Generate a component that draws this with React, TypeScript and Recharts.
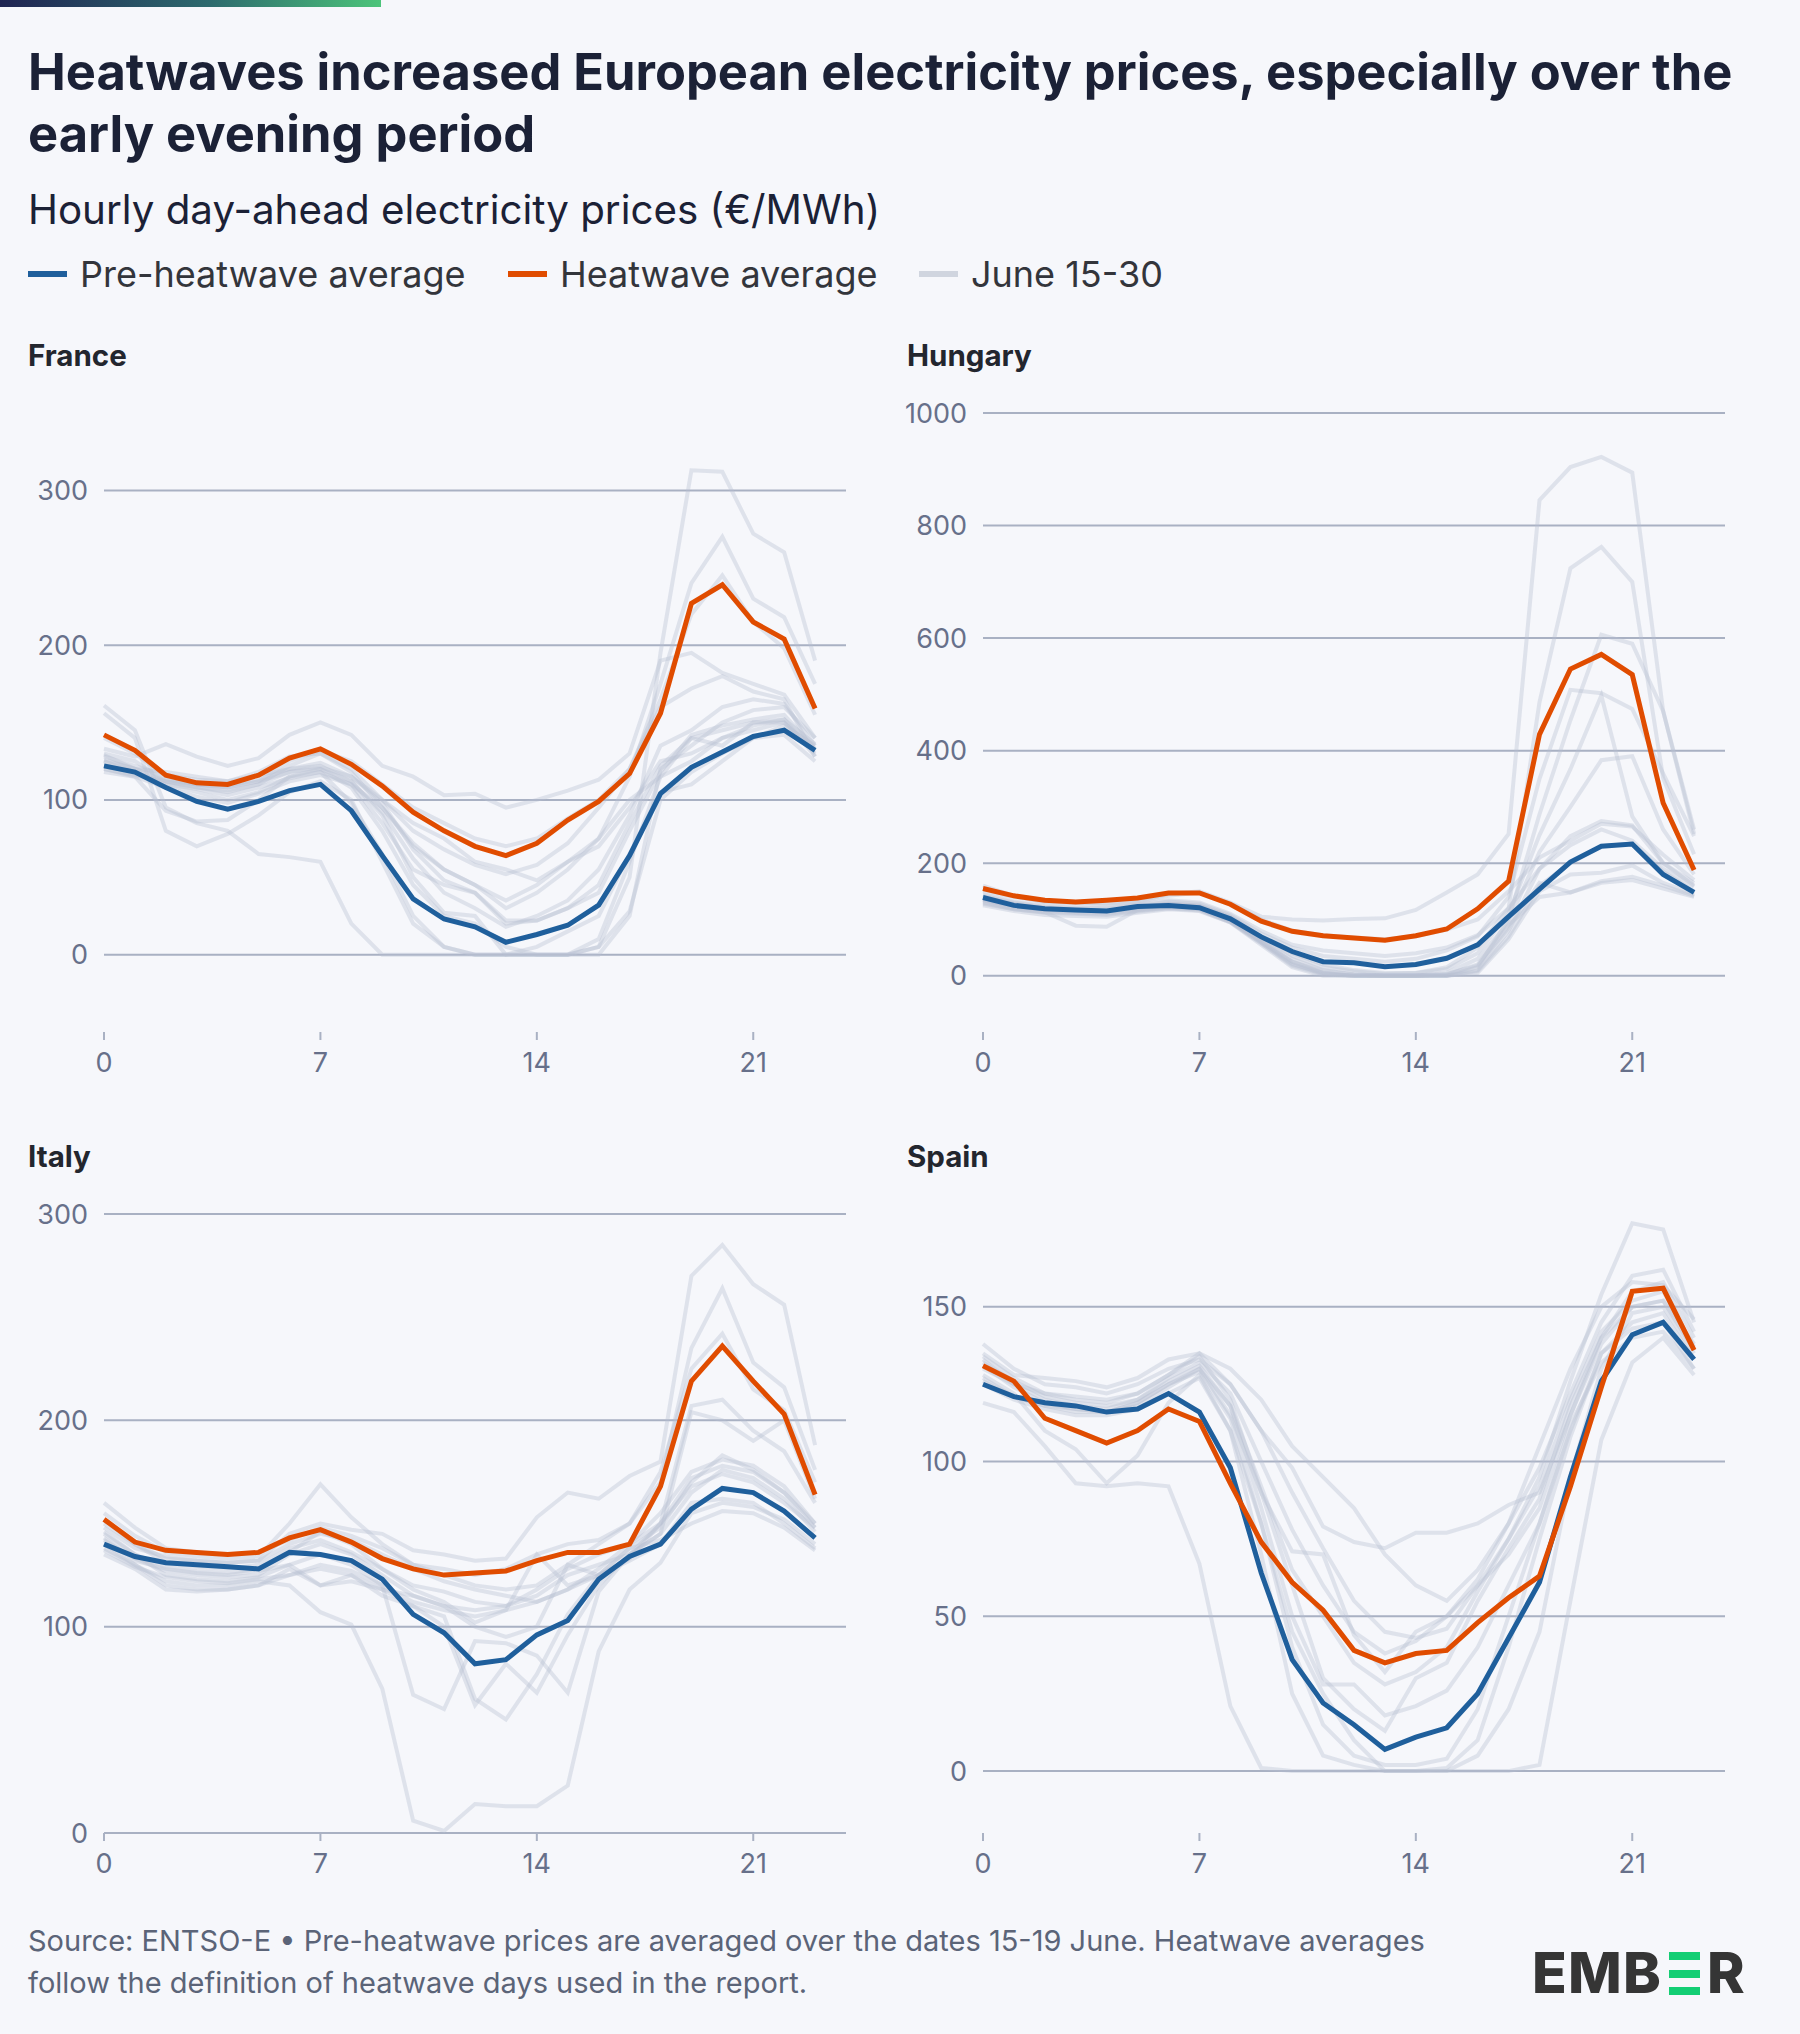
import { LineChart, Line, XAxis, YAxis, ReferenceLine } from "recharts";

const FONT = "Inter, 'Noto Sans', sans-serif";
const BLUE = "#1f5f9c";
const ORANGE = "#e04c00";
const GREY = "#b7bfd1";
const GRID = "#a9b1c3";
const TICK = "#67708a";
const INK = "#1b2136";

const HOURS = [0, 1, 2, 3, 4, 5, 6, 7, 8, 9, 10, 11, 12, 13, 14, 15, 16, 17, 18, 19, 20, 21, 22, 23];
const X_TICKS = [0, 7, 14, 21];

// France
const FR_PRE = [122, 118, 108, 99, 94, 99, 106, 110, 93, 64, 36, 23, 18, 8, 13, 19, 32, 64, 104, 121, 131, 141, 145, 132];
const FR_HW = [142, 132, 116, 111, 110, 116, 127, 133, 123, 109, 92, 80, 70, 64, 72, 87, 99, 117, 156, 227, 239, 215, 204, 159];
const FR_DAYS = [
  [125, 118, 110, 105, 100, 105, 115, 120, 108, 80, 45, 25, 20, 5, 0, 0, 5, 50, 195, 313, 312, 272, 260, 190],
  [130, 125, 112, 108, 105, 110, 122, 130, 118, 95, 70, 55, 45, 30, 40, 55, 75, 115, 175, 240, 270, 230, 218, 175],
  [140, 130, 115, 110, 108, 112, 125, 132, 125, 110, 95, 85, 75, 70, 75, 88, 100, 120, 165, 220, 245, 215, 198, 155],
  [133, 128, 136, 128, 122, 127, 142, 150, 142, 122, 115, 103, 104, 95, 100, 106, 113, 130, 190, 195, 182, 175, 168, 140],
  [161, 145, 95, 85, 80, 65, 63, 60, 20, 0, 0, 0, 0, 0, 0, 0, 0, 25, 120, 135, 150, 158, 160, 140],
  [156, 140, 80, 70, 78, 90, 105, 112, 100, 60, 20, 5, 0, 0, 0, 0, 10, 60, 115, 140, 135, 150, 152, 136],
  [120, 115, 93, 86, 87, 100, 115, 118, 110, 85, 55, 45, 40, 20, 22, 30, 40, 80, 118, 142, 148, 152, 155, 133],
  [129, 120, 118, 115, 112, 118, 128, 130, 120, 100, 80, 68, 58, 52, 58, 72, 95, 120, 160, 172, 180, 170, 165, 128],
  [128, 122, 116, 113, 112, 116, 120, 122, 112, 92, 62, 40, 30, 18, 25, 35, 55, 90, 135, 145, 160, 165, 162, 135],
  [120, 116, 112, 110, 108, 112, 118, 120, 112, 90, 50, 27, 25, 0, 5, 15, 25, 65, 105, 110, 125, 140, 148, 135],
  [118, 115, 108, 102, 98, 104, 112, 116, 110, 95, 72, 55, 45, 35, 45, 60, 75, 100, 115, 125, 140, 148, 152, 128],
  [125, 120, 113, 110, 109, 113, 120, 124, 115, 98, 68, 48, 40, 22, 22, 30, 45, 85, 122, 140, 145, 150, 150, 132],
  [122, 118, 110, 107, 103, 108, 114, 118, 98, 65, 25, 5, 0, 0, 0, 0, 5, 28, 100, 118, 130, 140, 142, 125],
  [126, 120, 112, 108, 106, 110, 118, 121, 115, 100, 85, 75, 60, 55, 48, 60, 70, 95, 125, 130, 140, 145, 150, 130],
];

// Hungary
const HU_PRE = [139, 125, 119, 117, 115, 123, 125, 121, 101, 69, 43, 25, 23, 16, 20, 31, 55, 105, 154, 202, 230, 234, 180, 148];
const HU_HW = [155, 142, 134, 131, 134, 138, 147, 147, 127, 97, 79, 71, 67, 63, 71, 83, 119, 168, 429, 545, 571, 535, 307, 188];
const HU_DAYS = [
  [150, 140, 132, 130, 128, 132, 145, 150, 130, 105, 100, 98, 101, 102, 117, 148, 180, 252, 845, 904, 922, 894, 470, 252],
  [140, 128, 120, 117, 115, 120, 128, 125, 105, 70, 40, 20, 10, 5, 5, 15, 50, 120, 486, 724, 762, 700, 351, 216],
  [135, 125, 118, 116, 114, 120, 126, 122, 100, 60, 25, 5, 0, 0, 0, 0, 15, 100, 287, 454, 606, 590, 470, 260],
  [142, 130, 122, 120, 118, 124, 132, 128, 108, 75, 50, 35, 30, 25, 30, 45, 70, 140, 350, 508, 502, 474, 359, 248],
  [138, 126, 119, 117, 116, 122, 128, 124, 104, 68, 35, 15, 8, 3, 5, 12, 40, 110, 250, 367, 498, 283, 200, 160],
  [136, 124, 117, 115, 114, 121, 127, 123, 102, 65, 30, 10, 2, 0, 0, 5, 30, 95, 220, 300, 383, 390, 260, 180],
  [134, 122, 116, 113, 112, 118, 124, 120, 98, 60, 22, 3, 0, 0, 0, 0, 10, 80, 190, 248, 275, 267, 200, 165],
  [144, 132, 124, 121, 120, 126, 134, 130, 110, 80, 55, 45, 40, 35, 40, 50, 72, 120, 190, 232, 260, 240, 190, 158],
  [128, 118, 112, 110, 108, 114, 120, 116, 95, 55, 15, 0, 0, 0, 0, 0, 5, 65, 150, 180, 183, 196, 165, 145],
  [132, 120, 114, 112, 110, 116, 122, 118, 96, 58, 18, 2, 0, 0, 0, 2, 20, 90, 140, 148, 168, 176, 160, 142],
  [160, 142, 130, 128, 125, 130, 142, 148, 128, 100, 80, 72, 68, 65, 70, 82, 100, 150, 210, 240, 270, 265, 215, 170],
  [125, 115, 108, 106, 105, 112, 118, 115, 95, 58, 20, 5, 0, 0, 0, 0, 8, 70, 160, 200, 230, 235, 185, 150],
  [130, 118, 113, 89, 87, 117, 120, 118, 96, 62, 25, 8, 2, 0, 0, 3, 18, 85, 165, 148, 165, 170, 155, 140],
];

// Italy
const IT_PRE = [140, 134, 131, 130, 129, 128, 136, 135, 132, 123, 106, 97, 82, 84, 96, 103, 123, 134, 140, 157, 167, 165, 156, 143];
const IT_HW = [152, 141, 137, 136, 135, 136, 143, 147, 141, 133, 128, 125, 126, 127, 132, 136, 136, 140, 168, 219, 236, 219, 203, 164];
const IT_DAYS = [
  [150, 140, 133, 132, 131, 132, 145, 150, 147, 145, 137, 135, 132, 133, 153, 165, 162, 173, 180, 270, 285, 266, 256, 188],
  [160, 148, 138, 136, 135, 136, 142, 148, 144, 138, 130, 128, 125, 128, 135, 140, 142, 150, 170, 235, 264, 228, 216, 176],
  [155, 144, 136, 134, 133, 134, 150, 169, 153, 140, 130, 125, 120, 118, 120, 130, 140, 150, 175, 225, 242, 215, 205, 170],
  [145, 135, 125, 123, 122, 124, 130, 135, 130, 120, 67, 60, 93, 92, 86, 68, 117, 135, 150, 207, 210, 195, 185, 160],
  [138, 130, 122, 120, 120, 122, 120, 107, 101, 70, 6, 1, 14, 13, 13, 23, 88, 118, 131, 155, 160, 158, 152, 140],
  [143, 132, 128, 126, 125, 127, 130, 120, 125, 115, 110, 100, 62, 82, 68, 96, 120, 135, 145, 204, 200, 190, 200, 162],
  [140, 130, 120, 118, 118, 120, 125, 128, 125, 118, 110, 105, 65, 55, 77, 106, 125, 138, 148, 170, 183, 176, 165, 148],
  [148, 138, 134, 132, 131, 132, 140, 145, 142, 135, 128, 122, 118, 115, 112, 118, 128, 140, 155, 175, 181, 178, 168, 150],
  [135, 128, 118, 117, 118, 120, 128, 120, 122, 118, 115, 110, 108, 110, 115, 125, 130, 135, 145, 165, 176, 172, 162, 146],
  [152, 140, 131, 129, 128, 130, 138, 142, 136, 128, 120, 117, 112, 110, 118, 128, 135, 140, 150, 168, 174, 170, 160, 148],
  [137, 129, 124, 122, 121, 123, 125, 130, 127, 120, 112, 108, 105, 108, 112, 118, 125, 132, 140, 160, 162, 160, 150, 138],
  [142, 133, 127, 125, 124, 125, 135, 140, 135, 125, 115, 110, 100, 95, 100, 130, 125, 138, 142, 150, 156, 155, 148, 137],
  [146, 135, 129, 127, 126, 128, 136, 146, 140, 128, 118, 112, 102, 108, 135, 120, 125, 133, 150, 172, 178, 175, 165, 150],
];

// Spain
const ES_PRE = [125, 121, 119, 118, 116, 117, 122, 116, 98, 64, 36, 22, 15, 7, 11, 14, 25, 43, 61, 95, 126, 141, 145, 133];
const ES_HW = [131, 126, 114, 110, 106, 110, 117, 113, 93, 74, 61, 52, 39, 35, 38, 39, 48, 56, 63, 92, 124, 155, 156, 136];
const ES_DAYS = [
  [138, 130, 125, 124, 122, 125, 130, 133, 125, 110, 90, 72, 55, 45, 43, 46, 60, 75, 95, 126, 154, 177, 175, 145],
  [135, 128, 127, 126, 124, 127, 133, 135, 130, 120, 105, 95, 85, 70, 60, 55, 65, 80, 105, 130, 150, 158, 157, 146],
  [119, 116, 105, 93, 92, 93, 92, 67, 21, 1, 0, 0, 0, 0, 0, 0, 0, 0, 2, 55, 107, 132, 140, 128],
  [128, 122, 110, 104, 93, 102, 119, 128, 110, 80, 45, 25, 10, 0, 0, 0, 5, 20, 45, 95, 130, 148, 150, 135],
  [130, 125, 122, 121, 120, 122, 128, 135, 125, 110, 98, 79, 74, 72, 77, 77, 80, 86, 90, 115, 140, 155, 158, 140],
  [126, 121, 118, 116, 116, 118, 124, 130, 115, 90, 71, 70, 44, 32, 45, 50, 60, 70, 85, 115, 138, 150, 152, 136],
  [132, 126, 121, 119, 118, 120, 126, 131, 118, 85, 50, 28, 28, 18, 21, 26, 40, 60, 80, 110, 135, 145, 148, 133],
  [134, 127, 122, 120, 119, 122, 128, 134, 120, 90, 60, 30, 20, 13, 30, 35, 55, 72, 88, 118, 140, 150, 152, 138],
  [125, 120, 117, 115, 115, 117, 122, 127, 110, 70, 25, 5, 2, 0, 0, 1, 10, 40, 75, 108, 135, 143, 145, 130],
  [133, 125, 120, 118, 117, 120, 127, 132, 122, 100, 78, 60, 45, 38, 42, 50, 62, 80, 98, 122, 145, 160, 162, 142],
  [127, 121, 118, 117, 116, 119, 125, 129, 114, 80, 40, 15, 5, 2, 2, 4, 20, 50, 80, 112, 132, 140, 142, 130],
  [131, 124, 119, 117, 116, 119, 125, 130, 118, 92, 65, 50, 35, 28, 32, 40, 58, 75, 92, 120, 142, 152, 155, 137],
];

const FR_TICKS = [0, 100, 200, 300];
const HU_TICKS = [0, 200, 400, 600, 800, 1000];
const IT_TICKS = [0, 100, 200, 300];
const ES_TICKS = [0, 50, 100, 150];

const PAD_TOP = 30;
const Y_AXIS_W = 90;

function buildRows(pre: number[], hw: number[], days: number[][]) {
  return HOURS.map((hour, i) => {
    const row: Record<string, number> = { hour, pre: pre[i], hw: hw[i] };
    days.forEach((d, j) => {
      row["d" + j] = d[i];
    });
    return row;
  });
}

interface PanelProps {
  title: string;
  plotLeft: number;
  top: number;
  domain: [number, number];
  ticks: number[];
  pre: number[];
  hw: number[];
  days: number[][];
}

function Panel({ title, plotLeft, top, domain, ticks, pre, hw, days }: PanelProps) {
  const rows = buildRows(pre, hw, days);
  const tickStyle = { fill: TICK, fontSize: 27, fontFamily: FONT };
  return (
    <>
      <div
        style={{
          position: "absolute",
          left: plotLeft - 76,
          top: top - 77,
          fontFamily: FONT,
          fontWeight: 700,
          fontSize: 29.5,
          lineHeight: "38px",
          color: "#23262e",
        }}
      >
        {title}
      </div>
      <div style={{ position: "absolute", left: plotLeft - Y_AXIS_W, top: top - PAD_TOP }}>
        <LineChart
          width={742 + Y_AXIS_W}
          height={679 + PAD_TOP}
          data={rows}
          margin={{ top: PAD_TOP, right: 0, bottom: 0, left: 0 }}
        >
          <XAxis
            dataKey="hour"
            type="number"
            domain={[0, 24]}
            ticks={X_TICKS}
            axisLine={false}
            tickLine={{ stroke: GRID, strokeWidth: 2 }}
            tickSize={8}
            tickMargin={13}
            height={60}
            tick={tickStyle}
          />
          <YAxis
            domain={domain}
            ticks={ticks}
            axisLine={false}
            tickLine={false}
            tickSize={0}
            tickMargin={16}
            width={Y_AXIS_W}
            tick={tickStyle}
            allowDataOverflow
          />
          {ticks.map((t) => (
            <ReferenceLine key={"g" + t} y={t} stroke={GRID} strokeWidth={2} />
          ))}
          {days.map((_, j) => (
            <Line
              key={j}
              dataKey={"d" + j}
              stroke={GREY}
              strokeOpacity={0.38}
              strokeWidth={4}
              dot={false}
              type="linear"
              isAnimationActive={false}
            />
          ))}
          <Line dataKey="pre" stroke={BLUE} strokeWidth={5} dot={false} type="linear" isAnimationActive={false} />
          <Line dataKey="hw" stroke={ORANGE} strokeWidth={5} dot={false} type="linear" isAnimationActive={false} />
        </LineChart>
      </div>
    </>
  );
}

function LegendItem({ color, label, left }: { color: string; label: string; left: number }) {
  return (
    <div style={{ position: "absolute", left, top: 252, display: "flex", alignItems: "center", height: 44 }}>
      <div style={{ width: 39, height: 6, background: color, marginRight: 13 }} />
      <span style={{ fontFamily: FONT, fontSize: 36, color: "#33353b", whiteSpace: "nowrap" }}>{label}</span>
    </div>
  );
}

function Logo() {
  const letter = (ch: string, x: number) => (
    <span
      style={{
        position: "absolute",
        left: x,
        top: 1944,
        fontFamily: FONT,
        fontWeight: 800,
        fontSize: 57,
        lineHeight: "58px",
        color: "#353535",
      }}
    >
      {ch}
    </span>
  );
  const bar = (y: number) => (
    <div style={{ position: "absolute", left: 1669, top: y, width: 31, height: 8, background: "#13ce74" }} />
  );
  return (
    <>
      {letter("E", 1532)}
      {letter("M", 1568)}
      {letter("B", 1623)}
      {bar(1952)}
      {bar(1970)}
      {bar(1987)}
      {letter("R", 1707)}
    </>
  );
}

export default function App() {
  return (
    <div style={{ position: "relative", width: 1800, height: 2034, background: "#f6f7fb", overflow: "hidden" }}>
      <style>{"body{margin:0;}"}</style>
      <div
        style={{
          position: "absolute",
          left: 0,
          top: 0,
          width: 381,
          height: 7,
          background: "linear-gradient(90deg, #1f2452 0%, #2d6a6e 55%, #4cc47a 100%)",
        }}
      />
      <div
        style={{
          position: "absolute",
          left: 28,
          top: 41,
          width: 1770,
          fontFamily: FONT,
          fontWeight: 700,
          fontSize: 50.6,
          lineHeight: "62px",
          color: INK,
          whiteSpace: "nowrap",
        }}
      >
        Heatwaves increased European electricity prices, especially over the
        <br />
        early evening period
      </div>
      <div
        style={{
          position: "absolute",
          left: 28,
          top: 184,
          fontFamily: FONT,
          fontSize: 40.3,
          lineHeight: "52px",
          color: INK,
          whiteSpace: "nowrap",
        }}
      >
        Hourly day-ahead electricity prices (€/MWh)
      </div>
      <LegendItem color={BLUE} label="Pre-heatwave average" left={28} />
      <LegendItem color={ORANGE} label="Heatwave average" left={508} />
      <LegendItem color="#d0d5df" label="June 15-30" left={919} />

      <Panel title="France" plotLeft={104} top={413} domain={[-50, 350]} ticks={FR_TICKS} pre={FR_PRE} hw={FR_HW} days={FR_DAYS} />
      <Panel title="Hungary" plotLeft={983} top={413} domain={[-100, 1000]} ticks={HU_TICKS} pre={HU_PRE} hw={HU_HW} days={HU_DAYS} />
      <Panel title="Italy" plotLeft={104} top={1214} domain={[0, 300]} ticks={IT_TICKS} pre={IT_PRE} hw={IT_HW} days={IT_DAYS} />
      <Panel title="Spain" plotLeft={983} top={1214} domain={[-20, 180]} ticks={ES_TICKS} pre={ES_PRE} hw={ES_HW} days={ES_DAYS} />

      <div
        style={{
          position: "absolute",
          left: 28,
          top: 1920,
          fontFamily: FONT,
          fontSize: 29,
          lineHeight: "42px",
          color: "#5b6478",
          whiteSpace: "nowrap",
        }}
      >
        Source: ENTSO-E • Pre-heatwave prices are averaged over the dates 15-19 June. Heatwave averages
        <br />
        follow the definition of heatwave days used in the report.
      </div>
      <Logo />
    </div>
  );
}
